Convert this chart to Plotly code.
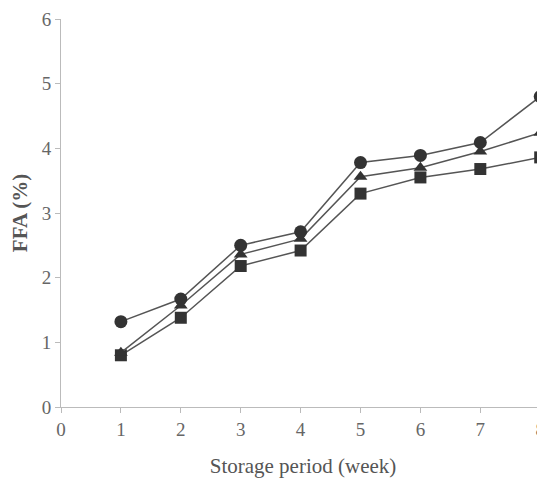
import plotly.graph_objects as go

weeks = [1, 2, 3, 4, 5, 6, 7, 8]
circle_vals = [1.32, 1.67, 2.50, 2.71, 3.78, 3.89, 4.09, 4.80]
triangle_vals = [0.84, 1.57, 2.36, 2.60, 3.56, 3.70, 3.95, 4.24]
square_vals = [0.80, 1.38, 2.18, 2.42, 3.30, 3.55, 3.68, 3.86]
x_ticks = [0, 1, 2, 3, 4, 5, 6, 7, 8]
y_ticks = [0, 1, 2, 3, 4, 5, 6]

SERIF = "Liberation Serif"

fig = go.Figure()
for vals, sym in [(square_vals, "square"), (triangle_vals, "triangle-up"), (circle_vals, "circle")]:
    fig.add_trace(go.Scatter(
        x=weeks, y=vals, mode="lines+markers",
        line=dict(color="#555555", width=1.5),
        marker=dict(symbol=sym, size=12 if sym != "circle" else 13, color="#333333"),
        cliponaxis=False, showlegend=False,
    ))

fig.update_layout(
    width=537, height=470,
    margin=dict(l=53, r=0, t=11, b=71),
    paper_bgcolor="white", plot_bgcolor="white",
    font=dict(family=SERIF, color="#555555"),
    xaxis=dict(range=[0, 8.08], tickvals=x_ticks, showgrid=False, zeroline=False,
               showline=True, linecolor="#bbbbbb", linewidth=1,
               ticks="outside", ticklen=5, tickcolor="#bbbbbb",
               tickfont=dict(family=SERIF, size=19, color="#666666"),
               title=dict(text="Storage period (week)",
                          font=dict(family=SERIF, size=21, color="#555555"), standoff=22)),
    yaxis=dict(range=[0, 6], tickvals=y_ticks, showgrid=False, zeroline=False,
               showline=True, linecolor="#bbbbbb", linewidth=1,
               ticks="outside", ticklen=5, tickcolor="#bbbbbb",
               tickfont=dict(family=SERIF, size=19, color="#666666"),
               title=dict(text="<b>FFA (%)</b>",
                          font=dict(family=SERIF, size=21, color="#555555"), standoff=8)),
)
fig.write_html("out.html")
